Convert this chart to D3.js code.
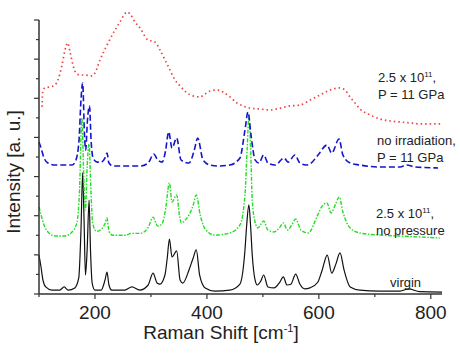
<!DOCTYPE html>
<html>
<head>
<meta charset="utf-8">
<script src="https://cdn.jsdelivr.net/npm/d3@7/dist/d3.min.js"></script>
<style>
  body { margin: 0; background: #fff; }
  svg { display: block; }
  text { font-family: "Liberation Sans", Arial, sans-serif; fill: #222; }
</style>
</head>
<body>
<div id="chart"></div>
<script>
// Raman shift (cm-1), intensity (a. u., offset traces)
const shiftTicks = [200, 400, 600, 800];

const virgin = [
  [100, 1.99], [103.6, 1.38], [107, 0.72], [112, 0.36], [123, 0.20], [137, 0.20],
  [145, 0.36], [152, 0.20], [164, 0.31], [171, 0.82], [175, 3.27], [178, 6.20],
  [180.5, 3.78], [183, 0.97], [186, 2.25], [189.5, 4.80], [192, 2.25], [195, 0.56],
  [200, 0.20], [211, 0.20], [218, 0.72], [221.5, 1.12], [225, 0.46], [230, 0.20],
  [253, 0.20], [266, 0.36], [280, 0.20], [295, 0.46], [303.7, 1.07], [311, 0.56],
  [316, 0.50], [325, 0.97], [329, 1.80], [333, 2.81], [337.6, 1.89], [346, 2.20],
  [352, 0.72], [357, 0.56], [368, 1.23], [375, 1.80], [381, 2.25], [387, 0.97],
  [397, 0.31], [414, 0.15], [441, 0.20], [459, 0.51], [468, 2.25], [471, 3.50],
  [475, 4.55], [478, 3.50], [481, 1.99], [486, 0.72], [490, 0.46], [496, 0.65],
  [501.4, 0.97], [509, 0.36], [520, 0.31], [530, 0.60], [536.5, 0.87], [543, 0.46],
  [550, 0.50], [558.6, 1.02], [566, 0.51], [575, 0.26], [584, 0.31], [598, 0.60],
  [606, 1.23], [615, 1.99], [623, 1.07], [630, 1.50], [637.8, 2.10], [645, 1.23],
  [656, 0.36], [673, 0.20], [709, 0.15], [745, 0.15], [760, 0.26], [780, 0.12],
  [820, 0.10]
];

const noPressure = [
  [100, 4.45], [103.6, 4.04], [109, 3.53], [116, 3.17], [129, 2.96], [146, 2.96],
  [159, 3.17], [168, 3.68], [172.4, 5.31], [176.5, 8.99], [180.4, 5.57], [183, 4.29],
  [186, 6.50], [189.5, 7.67], [192.5, 5.50], [196, 3.60], [203, 3.20], [211, 3.30],
  [218, 3.60], [221.5, 3.88], [225, 3.20], [232, 3.00], [253, 3.00], [266, 3.10],
  [281, 3.10], [295, 3.40], [303.7, 3.93], [312, 3.47], [320, 3.60], [326, 4.30],
  [333, 5.67], [337.6, 4.70], [346, 5.06], [351, 4.00], [354, 3.63], [362, 3.80],
  [368, 4.04], [375, 4.50], [381, 5.06], [388, 4.04], [398, 3.27], [414, 3.01],
  [441, 3.12], [459, 3.53], [468, 5.06], [472, 7.50], [475, 9.04], [478, 7.50],
  [481, 4.80], [486, 3.68], [491, 3.37], [496, 3.55], [501.4, 3.73], [509, 3.27],
  [520, 3.17], [530, 3.40], [536.5, 3.63], [544, 3.27], [551, 3.50], [558.6, 3.83],
  [568, 3.27], [581, 3.12], [598, 4.04], [606, 4.50], [614.5, 4.65], [621.7, 4.14],
  [630, 4.60], [636.5, 4.96], [643, 4.19], [656, 3.37], [673, 3.12], [709, 3.01],
  [745, 2.96], [781, 2.91], [816, 2.86]
];

const noIrradiation = [
  [100, 7.77], [103.6, 7.46], [109, 6.95], [116, 6.69], [129, 6.59], [146, 6.59],
  [159, 6.59], [166, 6.85], [171.5, 7.87], [175, 9.91], [178, 10.78], [181.3, 8.12],
  [183.4, 7.36], [186.6, 8.89], [190.2, 9.61], [193, 7.87], [196.5, 6.95], [204, 6.74],
  [211, 6.74], [218, 6.95], [221.5, 7.20], [225, 6.69], [232, 6.54], [281, 6.54],
  [295, 6.69], [305, 7.15], [312, 6.85], [320, 6.74], [326, 7.30], [331.7, 8.28],
  [337.6, 7.46], [346, 7.97], [353.7, 6.85], [368, 6.69], [377, 7.30], [383.5, 7.97],
  [393, 6.85], [405.5, 6.59], [420, 6.54], [441, 6.59], [459, 6.95], [468, 8.38],
  [473.4, 9.30], [478.8, 8.12], [486, 6.85], [493, 6.69], [501.4, 7.10], [509, 6.69],
  [522, 6.59], [537.7, 6.95], [545, 6.74], [557.4, 7.10], [566, 6.69], [577, 6.59],
  [584, 6.64], [598.5, 7.10], [614.5, 7.61], [623, 7.20], [636, 7.92], [643, 7.10],
  [656, 6.69], [673, 6.59], [709, 6.49], [745, 6.49], [757, 6.59], [772, 6.49],
  [813, 6.44]
];

const irradiatedPressure = [
  [105.4, 9.56], [107.1, 10.42], [110.7, 10.53], [119.7, 10.58], [128.6, 10.68],
  [133.9, 10.94], [141.1, 11.70], [146.5, 12.47], [151.3, 12.83], [155.4, 12.37],
  [160.7, 11.70], [166.1, 11.29], [173.3, 11.19], [182.2, 11.19], [194.7, 11.14],
  [200, 11.29], [209, 11.96], [221.5, 12.72], [235.8, 13.49], [244.7, 13.90],
  [251.9, 14.26], [257.2, 14.41], [262.6, 14.31], [271.5, 13.90], [280.5, 13.59],
  [294.7, 12.98], [307, 12.88], [316.2, 12.47], [325.1, 11.96], [334, 11.45],
  [343, 10.94], [352, 10.63], [362.6, 10.32], [375.1, 10.12], [387.6, 10.07],
  [396.6, 10.22], [405.5, 10.37], [418, 10.42], [428.7, 10.32], [441.2, 10.07],
  [453.7, 9.76], [464.5, 9.61], [477, 9.50], [494.8, 9.45], [512.7, 9.40],
  [530.6, 9.50], [548.4, 9.61], [566.3, 9.65], [584.2, 9.91], [602, 10.17],
  [619.9, 10.42], [636, 10.53], [646.7, 10.42], [655.6, 10.07], [664.6, 9.76],
  [673.5, 9.45], [691.4, 9.15], [709.2, 8.94], [727.1, 8.84], [745, 8.79],
  [762.8, 8.74], [780.7, 8.69], [818, 8.69]
];

const width = 460, height = 353;

const svg = d3.select('#chart').append('svg')
  .attr('width', width)
  .attr('height', height);

const x = d3.scaleLinear().domain([100, 820]).range([39, 442]);
const y = d3.scaleLinear().domain([0, 14]).range([294, 20]);

const line = d3.line()
  .x(d => x(d[0]))
  .y(d => y(d[1]))
  .curve(d3.curveMonotoneX);

const traces = [
  { data: virgin, color: '#111', dash: null, w: 1.2 },
  { data: noPressure, color: '#22dd22', dash: '4 1.5 1.5 1.5', w: 1.4 },
  { data: noIrradiation, color: '#1414cc', dash: '6 3', w: 1.6 },
  { data: irradiatedPressure, color: '#f04040', dash: '1.5 3', w: 1.7 }
];

traces.forEach(t => {
  svg.append('path')
    .attr('d', line(t.data))
    .attr('fill', 'none')
    .attr('stroke', t.color)
    .attr('stroke-width', t.w)
    .attr('stroke-dasharray', t.dash);
});

// axes: major ticks labelled, minor halfway
const xAxis = svg.append('g').attr('transform', `translate(0,${y(0)})`);
xAxis.append('line')
  .attr('x1', x(100)).attr('x2', x(820))
  .attr('stroke', '#333').attr('stroke-width', 1.5);
xAxis.selectAll('.mt').data(d3.range(100, 821, 100)).enter().append('line')
  .attr('x1', d => x(d)).attr('x2', d => x(d))
  .attr('y1', 0).attr('y2', d => d % 200 === 0 ? 5 : 3)
  .attr('stroke', '#333').attr('stroke-width', 1.2);
xAxis.selectAll('text').data(shiftTicks).enter().append('text')
  .attr('x', d => x(d)).attr('y', 25)
  .attr('text-anchor', 'middle')
  .style('font-size', '19px')
  .text(d => d);

const yAxis = svg.append('g').attr('transform', `translate(${x(100)},0)`);
yAxis.append('line')
  .attr('y1', y(0)).attr('y2', y(14))
  .attr('stroke', '#333').attr('stroke-width', 1.5);
yAxis.selectAll('.mt').data(d3.range(0, 15)).enter().append('line')
  .attr('y1', d => y(d)).attr('y2', d => y(d))
  .attr('x1', 0).attr('x2', d => d % 2 === 0 ? -5 : -3)
  .attr('stroke', '#333').attr('stroke-width', 1.2);

const xt = svg.append('text')
  .attr('x', 221).attr('y', 339)
  .attr('text-anchor', 'middle')
  .style('font-size', '19px');
xt.append('tspan').text('Raman Shift [cm');
xt.append('tspan').attr('dy', -7).style('font-size', '11px').text('-1');
xt.append('tspan').attr('dy', 7).text(']');

svg.append('text')
  .attr('transform', 'translate(20,172) rotate(-90)')
  .attr('text-anchor', 'middle')
  .style('font-size', '19px')
  .text('Intensity [a. u.]');

// trace labels
function label(px, py, parts) {
  const t = svg.append('text').attr('x', px).attr('y', py).style('font-size', '13px');
  parts.forEach(p => {
    if (p.sup) {
      t.append('tspan').attr('dy', -5).style('font-size', '8px').text(p.sup);
      t.append('tspan').attr('dy', 5).text(p.after || '');
    } else {
      t.append('tspan').text(p.text);
    }
  });
}
label(378, 82, [{ text: '2.5 x 10' }, { sup: '11', after: ',' }]);
label(378, 99, [{ text: 'P = 11 GPa' }]);
label(377, 145, [{ text: 'no irradiation,' }]);
label(377, 162, [{ text: 'P = 11 GPa' }]);
label(376, 218, [{ text: '2.5 x 10' }, { sup: '11', after: ',' }]);
label(376, 235, [{ text: 'no pressure' }]);
label(390, 287, [{ text: 'virgin' }]);
</script>
</body>
</html>
